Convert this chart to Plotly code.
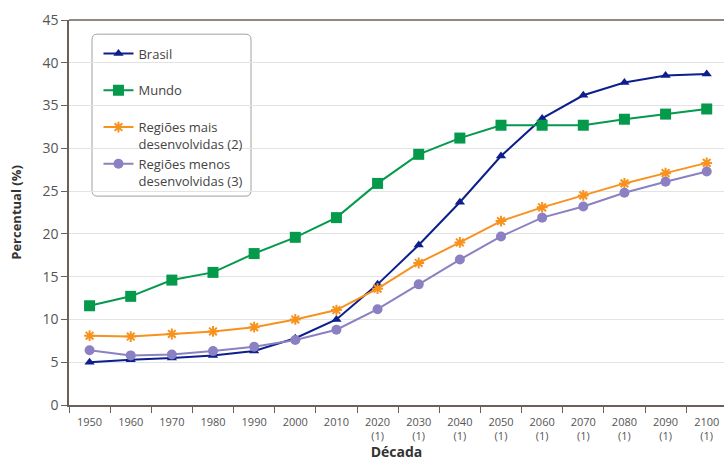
import plotly.graph_objects as go

decades = ["1950", "1960", "1970", "1980", "1990", "2000", "2010",
           "2020<br>(1)", "2030<br>(1)", "2040<br>(1)", "2050<br>(1)", "2060<br>(1)",
           "2070<br>(1)", "2080<br>(1)", "2090<br>(1)", "2100<br>(1)"]

brasil = [5.0, 5.3, 5.5, 5.8, 6.3, 7.8, 10.0, 14.1, 18.7, 23.7, 29.1, 33.5, 36.2, 37.7, 38.5, 38.7]
mundo = [11.6, 12.7, 14.6, 15.5, 17.7, 19.6, 21.9, 25.9, 29.3, 31.2, 32.7, 32.7, 32.7, 33.4, 34.0, 34.6]
mais = [8.1, 8.0, 8.3, 8.6, 9.1, 10.0, 11.1, 13.6, 16.6, 19.0, 21.5, 23.1, 24.5, 25.9, 27.1, 28.3]
menos = [6.4, 5.8, 5.9, 6.3, 6.8, 7.6, 8.8, 11.2, 14.1, 17.0, 19.7, 21.9, 23.2, 24.8, 26.1, 27.3]

names = ["Brasil<br>\u00a0", "Mundo<br>\u00a0", "Regiões mais<br>desenvolvidas (2)",
         "Regiões menos<br>desenvolvidas (3)"]
colors = ["#0c1f8c", "#05994c", "#f7921e", "#8a80c2"]
symbols = ["triangle-up", "square", "asterisk-open", "circle"]
sizes = [9, 11, 9, 10]

fig = go.Figure()
for name, vals, c, s, sz in zip(names, [brasil, mundo, mais, menos], colors, symbols, sizes):
    marker = dict(symbol=s, size=sz, color=c)
    if s == "asterisk-open":
        marker["line"] = dict(color=c, width=2)
    fig.add_trace(go.Scatter(x=decades, y=vals, name=name, mode="lines+markers",
                             line=dict(color=c, width=2), marker=marker))

axis_col = "#6b615a"
fig.update_layout(
    width=724, height=461,
    margin=dict(l=69, r=0, t=20, b=56),
    paper_bgcolor="white", plot_bgcolor="white",
    font=dict(family="Open Sans, Noto Sans, sans-serif", color="#555555"),
    showlegend=True,
    legend=dict(x=0.045, y=0.952, xanchor="left", yanchor="top",
                bgcolor="rgba(0,0,0,0)", borderwidth=0,
                font=dict(size=13, color="#444444"), valign="top",
                tracegroupgap=0),
    xaxis=dict(type="category", range=[-0.5, 15.42], showgrid=False, automargin=False,
               showline=True, linecolor=axis_col, linewidth=1.5,
               ticks="outside", tickson="boundaries", ticklen=6, tickcolor=axis_col,
               ticklabelstandoff=6,
               tickfont=dict(size=11, color="#555555"),
               title=dict(text="<b>Década</b>", font=dict(size=14, color="#333333"), standoff=15)),
    yaxis=dict(range=[0, 45], dtick=5, showgrid=True, gridcolor="#e3e3e3", gridwidth=1,
               automargin=False,
               showline=True, linecolor=axis_col, linewidth=1.5,
               ticks="outside", ticklen=6, tickcolor=axis_col,
               tickfont=dict(size=14, color="#555555"), zeroline=False,
               title=dict(text="<b>Percentual (%)</b>", font=dict(size=13, color="#333333"), standoff=18)),
    shapes=[
        dict(type="line", xref="paper", yref="paper", x0=0, x1=1, y0=1, y1=1,
             line=dict(color=axis_col, width=1.5)),
        dict(type="path", xref="paper", yref="paper", layer="below",
             path="M 0.0425,0.9632 L 0.2703,0.9632 Q 0.2779,0.9632 0.2779,0.9476 L 0.2779,0.5581 Q 0.2779,0.5426 0.2703,0.5426 L 0.0425,0.5426 Q 0.0351,0.5426 0.0351,0.5581 L 0.0351,0.9476 Q 0.0351,0.9632 0.0425,0.9632 Z",
             line=dict(color="#a0a0a0", width=1), fillcolor="white"),
    ],
)
fig.write_html("out.html", config={"displayModeBar": False},
               post_script="document.body.style.margin='0';")
